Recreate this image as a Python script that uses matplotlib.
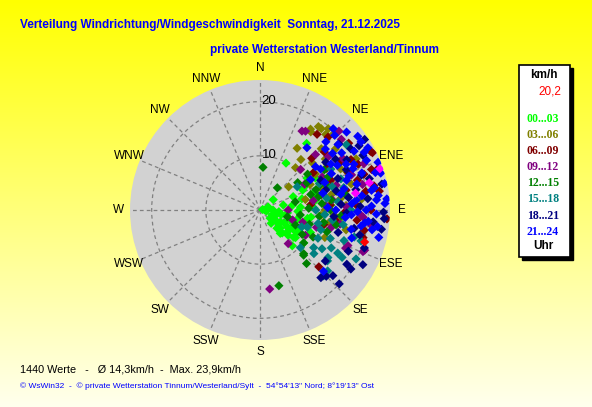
import numpy as np
import matplotlib
matplotlib.use("Agg")
import matplotlib.pyplot as plt
from matplotlib import transforms

# wind data: (direction deg, speed km/h) per time slot
slots = ['00...03', '03...06', '06...09', '09...12', '12...15', '15...18', '18...21', '21...24']
slot_colors = ['#00FF00', '#808000', '#800000', '#800080', '#008000', '#008080', '#000080', '#0000FF']

pts_00_03 = [(80, 0.5), (90, 0.9), (69, 1.6), (90, 2.4), (113, 2.4), (124, 3.4), (121, 4.4), (137, 4.6),
             (136, 5.9), (132, 7.0), (129, 8.0), (121, 8.0), (127, 10.1), (122, 6.0), (52, 3.1), (125, 3.9),
             (139, 5.7), (128, 8.3), (118, 6.8), (96, 5.1), (100, 8.9), (65, 8.7), (68, 6.6), (29, 9.9),
             (35, 15.0), (80, 10.4), (70, 12.5), (86, 7.5), (78, 4.4), (129, 2.4), (108, 5.9), (138, 8.9),
             (114, 8.2), (114, 10.2), (86, 13.1), (79, 15.2), (100, 1.2), (110, 3.0), (95, 3.5), (140, 3.2),
             (118, 5.0), (105, 7.0), (72, 10.5), (60, 11.8), (62, 9.5), (75, 8.0), (82, 6.0), (92, 7.0),
             (102, 4.0), (112, 6.5), (120, 7.0), (126, 6.5), (132, 5.0), (88, 10.0), (56, 10.5), (98, 9.5)]
pts_03_06 = [(37, 18.8), (33, 17.2), (40, 19.6), (31, 13.3), (113, 13.0), (94, 13.7), (32, 17.6), (35, 18.8),
             (40, 10.2), (51, 6.8), (41, 18.5), (97, 14.7), (63, 16.7), (74, 17.5), (57, 12.2), (78, 13.4),
             (87, 15.9), (77, 8.6), (95, 11.3), (62, 20.1), (51, 17.9), (39, 12.0), (52, 15.3), (63, 10.4),
             (84, 18.8), (103, 16.3), (45, 16.0), (48, 13.0), (56, 15.0), (60, 18.5), (68, 14.0), (70, 12.0),
             (82, 15.0), (90, 12.0), (100, 13.0), (44, 19.5), (66, 17.5)]
pts_06_09 = [(63, 23.3), (94, 23.5), (134, 15.1), (81, 22.3), (70, 21.9), (61, 19.2), (71, 20.3), (101, 19.6),
             (105, 19.7), (103, 12.1), (98, 14.1), (37, 17.5), (43, 18.4), (59, 17.4), (67, 17.7), (62, 23.1),
             (71, 22.8), (78, 21.5), (77, 16.3), (67, 14.2), (87, 17.8), (84, 9.4), (76, 11.6), (48, 16.0),
             (53, 20.5), (58, 14.5), (65, 20.0), (73, 18.8), (80, 19.8), (90, 20.5), (92, 15.5), (96, 18.0),
             (86, 13.0), (55, 12.0), (45, 13.5)]
pts_09_12 = [(140, 8.1), (30, 16.8), (107, 6.3), (106, 8.2), (173, 14.7), (90, 5.2), (114, 17.3), (112, 20.5),
             (94, 19.1), (28, 16.5), (45, 20.6), (45, 10.6), (112, 17.5), (111, 20.7), (107, 10.9), (72, 14.8),
             (69, 18.1), (93, 18.7), (86, 12.2), (49, 19.9), (45, 14.5), (98, 20.8), (119, 9.6), (52, 16.0),
             (58, 18.0), (62, 13.0), (66, 21.0), (76, 19.5), (82, 13.5), (88, 16.0), (100, 15.0), (104, 13.5),
             (60, 9.5), (80, 10.0)]
pts_12_15 = [(4, 7.9), (166, 14.4), (135, 11.4), (139, 13.1), (38, 5.2), (104, 5.2), (77, 6.7), (127, 10.1),
             (77, 11.1), (101, 12.0), (117, 11.0), (54, 8.6), (53, 11.0), (71, 13.2), (82, 13.3), (94, 15.0),
             (67, 12.1), (73, 9.8), (97, 7.5), (101, 14.3), (113, 7.1), (80, 16.1), (136, 11.6), (60, 10.0),
             (64, 14.0), (70, 11.0), (76, 14.5), (84, 11.5), (88, 9.0), (90, 13.0), (96, 11.0), (106, 9.5),
             (108, 13.0), (120, 9.0), (58, 14.0)]
pts_15_18 = [(125, 12.1), (125, 15.3), (119, 16.4), (112, 8.3), (133, 10.2), (129, 12.8), (116, 11.9), (108, 11.8),
             (110, 9.3), (118, 14.9), (127, 15.6), (117, 19.9), (136, 16.9), (100, 15.6), (106, 18.1), (58, 8.1),
             (69, 16.0), (132, 16.8), (60, 15.1), (90, 16.8), (90, 10.3), (107, 19.5), (53, 20.0), (66, 12.0),
             (72, 14.0), (80, 12.5), (84, 14.5), (94, 12.0), (98, 13.5), (103, 11.0), (112, 14.0), (120, 17.5),
             (122, 13.5), (110, 16.5), (75, 16.0)]
pts_18_21 = [(56, 23.3), (135, 17.3), (133, 20.0), (122, 18.9), (91, 22.8), (57, 21.8), (128, 15.3), (132, 18.1),
             (123, 20.0), (99, 22.7), (94, 23.0), (101, 17.7), (95, 13.7), (138, 16.8), (78, 23.0), (65, 17.6),
             (56, 16.8), (78, 18.1), (86, 15.0), (71, 19.8), (73, 12.7), (56, 20.2), (50, 19.0), (54, 15.0),
             (60, 18.5), (62, 21.5), (68, 15.5), (74, 21.0), (76, 14.5), (82, 16.5), (84, 20.0), (88, 18.5),
             (92, 16.0), (96, 21.0), (104, 19.0), (110, 20.5), (115, 18.0), (118, 21.5), (106, 15.0), (64, 12.5)]
pts_21_24 = [(53, 22.6), (73, 23.3), (85, 23.5), (98, 21.9), (103, 22.5), (134, 16.3), (107, 17.7), (42, 20.2),
             (50, 18.8), (56, 22.5), (61, 22.0), (68, 23.5), (79, 21.5), (87, 23.1), (69, 17.6), (55, 18.4),
             (64, 19.3), (37, 14.4), (96, 20.1), (57, 15.6), (71, 16.9), (84, 17.9), (90, 19.6), (79, 15.2),
             (56, 13.5), (93, 16.9), (80, 20.9), (59, 10.9), (99, 18.9), (90, 14.0), (47, 16.5), (65, 21.7),
             (85, 21.6), (62, 18.0), (45, 19.5), (48, 21.5), (52, 17.0), (58, 20.5), (60, 16.5), (63, 14.8),
             (66, 18.8), (70, 20.0), (72, 22.4), (75, 18.5), (76, 16.0), (82, 19.0), (83, 22.0), (86, 17.0),
             (88, 20.6), (91, 18.0), (92, 21.5), (95, 15.8), (97, 19.5), (100, 21.0), (102, 17.2), (52, 13.0),
             (67, 13.0), (75, 12.0), (88, 12.5), (60, 23.0), (78, 23.5), (44, 17.5)]
pts_magenta = [(71, 23.4), (76, 20.8), (80, 17.9)]
pt_current = (107, 20.2)

all_pts = [pts_00_03, pts_03_06, pts_06_09, pts_09_12, pts_12_15, pts_15_18, pts_18_21, pts_21_24]

directions = ['N', 'NNE', 'NE', 'ENE', 'E', 'ESE', 'SE', 'SSE',
              'S', 'SSW', 'SW', 'WSW', 'W', 'WNW', 'NW', 'NNW']
rings = [10, 20]
r_max = 24

title1 = "Verteilung Windrichtung/Windgeschwindigkeit  Sonntag, 21.12.2025"
title2 = "private Wetterstation Westerland/Tinnum"
stats_text = "1440 Werte   -   \u00d8 14,3km/h  -  Max. 23,9km/h"
footer = "\u00a9 WsWin32  -  \u00a9 private Wetterstation Tinnum/Westerland/Sylt  -  54\u00b054'13\" Nord; 8\u00b019'13\" Ost"
current_speed = "20,2"

plt.rcParams['font.family'] = ['Liberation Sans', 'DejaVu Sans']

fig = plt.figure(figsize=(5.92, 4.07), dpi=100)

# yellow gradient background
bg = fig.add_axes([0, 0, 1, 1], zorder=-10)
grad = np.linspace(0, 1, 256)
img = np.ones((256, 1, 3))
img[:, 0, 2] = grad * 0.93
bg.imshow(img, aspect='auto', extent=[0, 1, 0, 1], origin='upper')
bg.set_axis_off()

ax = fig.add_axes([0.2196, 0.1646, 0.4392, 0.6388], projection='polar')
ax.set_theta_zero_location('N')
ax.set_theta_direction(-1)
ax.set_facecolor('#D2D2D2')
ax.spines['polar'].set_visible(False)
ax.set_ylim(0, r_max)
ax.set_xticks(np.radians(np.arange(0, 360, 22.5)))
ax.set_xticklabels([])
ax.set_yticks(rings)
ax.set_yticklabels([])
ax.grid(True, color='#808080', linestyle=(0, (3, 2.5)), linewidth=0.9)

for pts, col in zip(all_pts, slot_colors):
    d = np.radians([p[0] for p in pts])
    s = [p[1] for p in pts]
    ax.scatter(d, s, marker='D', s=22, color=col, edgecolors='none', zorder=3)
ax.scatter(np.radians([p[0] for p in pts_magenta]), [p[1] for p in pts_magenta],
           marker='D', s=22, color='#FF00FF', edgecolors='none', zorder=4)
ax.scatter(np.radians(pt_current[0]), pt_current[1], marker='D', s=22, color='#FF0000',
           edgecolors='none', zorder=4)

off = transforms.offset_copy(ax.transData, fig=fig, x=9, y=1, units='dots')
for r in rings:
    ax.text(0, r, str(r), transform=off, ha='center', va='center', fontsize=9.5, color='black', zorder=5)

for i, name in enumerate(directions):
    ax.text(np.radians(i * 22.5), 26.2, name, ha='center', va='center', fontsize=8.5,
            color='black', clip_on=False)

# titles
fig.text(20 / 592, 1 - 25 / 407, title1, ha='left', va='center', fontsize=8.5,
         fontweight='bold', color='#0000FF')
fig.text(210 / 592, 1 - 50 / 407, title2, ha='left', va='center', fontsize=8.5,
         fontweight='bold', color='#0000FF')
fig.text(20 / 592, 1 - 369 / 407, stats_text, ha='left', va='center', fontsize=7.8, color='black')
fig.text(20 / 592, 1 - 386 / 407, footer, ha='left', va='center', fontsize=6,
         color='#0000FF')

# legend box with shadow
lx0, lx1, ly0, ly1 = 519 / 592, 570 / 592, 1 - 257 / 407, 1 - 65 / 407
shadow = plt.Rectangle((lx0 + 3 / 592, ly0 - 3 / 407), lx1 - lx0, ly1 - ly0, transform=fig.transFigure,
                       facecolor='black', edgecolor='black', zorder=1)
box = plt.Rectangle((lx0, ly0), lx1 - lx0, ly1 - ly0, transform=fig.transFigure,
                    facecolor='white', edgecolor='black', linewidth=1.2, zorder=2)
fig.patches.extend([shadow, box])

fig.text(544 / 592, 1 - 75 / 407, "km/h", ha='center', va='center', fontsize=8.5,
         fontweight='bold', color='black', zorder=3)
fig.text(561 / 592, 1 - 92 / 407, current_speed, ha='right', va='center', fontsize=8.5,
         color='#FF0000', zorder=3)
for i, (lab, col) in enumerate(zip(slots, slot_colors)):
    fig.text(543 / 592, 1 - (119 + i * 16.1) / 407, lab, ha='center', va='center', fontsize=8.5,
             fontweight='bold', color=col, family=['Liberation Serif', 'DejaVu Serif'], zorder=3)
fig.text(543 / 592, 1 - 246 / 407, "Uhr", ha='center', va='center', fontsize=8.5,
         fontweight='bold', color='black', zorder=3)

fig.savefig('out.png', dpi=100)
